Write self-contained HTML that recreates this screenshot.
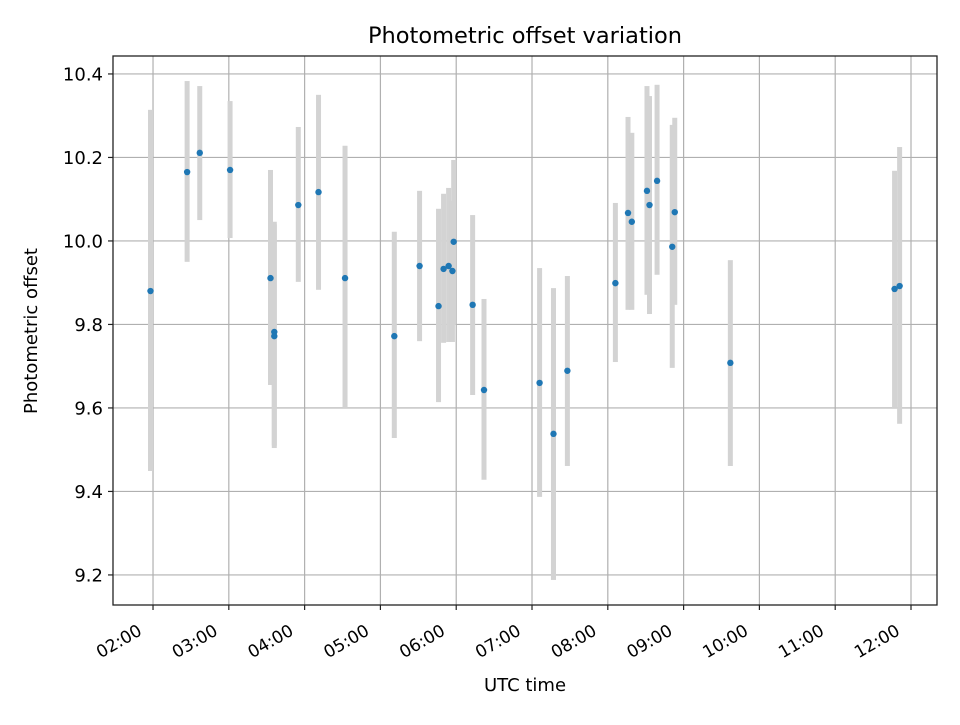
<!DOCTYPE html>
<html><head><meta charset="utf-8"><style>
body{margin:0;background:#fff}
svg text{font-family:"DejaVu Sans","Liberation Sans",sans-serif;fill:#000}
</style></head><body>
<svg id="chart" width="960" height="720">
<rect x="0" y="0" width="960" height="720" fill="#fff"/>
<text x="525" y="43" font-size="22.5" text-anchor="middle">Photometric offset variation</text>
<g id="grid"></g><g id="bars"></g><g id="points"></g><g id="axes"></g>
<text x="525" y="691" font-size="18" text-anchor="middle">UTC time</text>
<text transform="translate(37,331) rotate(-90)" font-size="18" text-anchor="middle">Photometric offset</text>
</svg>
<script>
const times=["01:58","02:27","02:37","03:01","03:33","03:36","03:36","03:55","04:11","04:32","05:11","05:31","05:46","05:50","05:54","05:57","05:58","06:13","06:22","07:06","07:17","07:28","08:06","08:16","08:19","08:31","08:33","08:39","08:51","08:53","09:37","11:47","11:51"];
const values=[9.880,10.165,10.211,10.170,9.911,9.782,9.772,10.086,10.117,9.911,9.772,9.940,9.844,9.933,9.940,9.928,9.998,9.847,9.643,9.660,9.538,9.689,9.899,10.067,10.046,10.120,10.086,10.144,9.986,10.069,9.708,9.885,9.892];
const upper=[10.314,10.383,10.371,10.335,10.170,10.046,10.040,10.273,10.350,10.228,10.022,10.120,10.077,10.113,10.127,10.096,10.194,10.062,9.861,9.935,9.887,9.916,10.091,10.297,10.259,10.371,10.347,10.374,10.278,10.295,9.954,10.168,10.225];
const lower=[9.449,9.950,10.050,10.007,9.655,9.504,9.510,9.902,9.883,9.600,9.528,9.760,9.614,9.756,9.758,9.758,9.799,9.631,9.428,9.387,9.188,9.461,9.710,9.835,9.835,9.871,9.825,9.919,9.696,9.847,9.461,9.600,9.562];
const yTicks=[9.2,9.4,9.6,9.8,10.0,10.2,10.4];
const yTickLabels=["9.2","9.4","9.6","9.8","10.0","10.2","10.4"];
const xTicks=[2,3,4,5,6,7,8,9,10,11,12];
const xTickLabels=["02:00","03:00","04:00","05:00","06:00","07:00","08:00","09:00","10:00","11:00","12:00"];

const L=113,R=937,T=56,B=605;
const xMin=1.472,xMax=12.343,yMin=9.128,yMax=10.443;
const xs=h=>L+(h-xMin)/(xMax-xMin)*(R-L);
const ys=v=>B-(v-yMin)/(yMax-yMin)*(B-T);
const hrs=s=>{const p=s.split(':');return +p[0]+(+p[1])/60;};
const NS="http://www.w3.org/2000/svg";
function mk(tag,attrs,parent){const e=document.createElementNS(NS,tag);for(const k in attrs)e.setAttribute(k,attrs[k]);parent.appendChild(e);return e;}
const grid=document.getElementById('grid'),bars=document.getElementById('bars'),pts=document.getElementById('points'),axes=document.getElementById('axes');

xTicks.forEach((h,i)=>{
  const x=xs(h);
  const g=mk('line',{x1:x,x2:x,y1:T,y2:B,stroke:'#b0b0b0','stroke-width':1.2},grid);
  
  
  const t=mk('line',{x1:x,x2:x,y1:B,y2:B+5,stroke:'#222','stroke-width':1.2},axes);
  
  
  const lb=mk('text',{'font-size':17,'text-anchor':'end',transform:`translate(${x-10},634) rotate(-30)`},axes);
  lb.textContent=xTickLabels[i];
  
  
});
yTicks.forEach((v,i)=>{
  const y=ys(v);
  const g=mk('line',{x1:L,x2:R,y1:y,y2:y,stroke:'#b0b0b0','stroke-width':1.2},grid);
  
  
  const t=mk('line',{x1:L-5,x2:L,y1:y,y2:y,stroke:'#222','stroke-width':1.2},axes);
  
  
  const lb=mk('text',{x:L-10,y:y+6.5,'font-size':18,'text-anchor':'end'},axes);
  lb.textContent=yTickLabels[i];
  
  
});
times.forEach((s,i)=>{
  const x=xs(hrs(s));
  const b=mk('rect',{x:x-2.5,y:ys(upper[i]),width:5,height:ys(lower[i])-ys(upper[i]),fill:'#d3d3d3'},bars);
  
  
  const c=mk('circle',{cx:x,cy:ys(values[i]),r:3.2,fill:'#1f77b4'},pts);
  
  
});
const f=mk('rect',{x:L,y:T,width:R-L,height:B-T,fill:'none',stroke:'#222','stroke-width':1.3},axes);


</script>
</body></html>
